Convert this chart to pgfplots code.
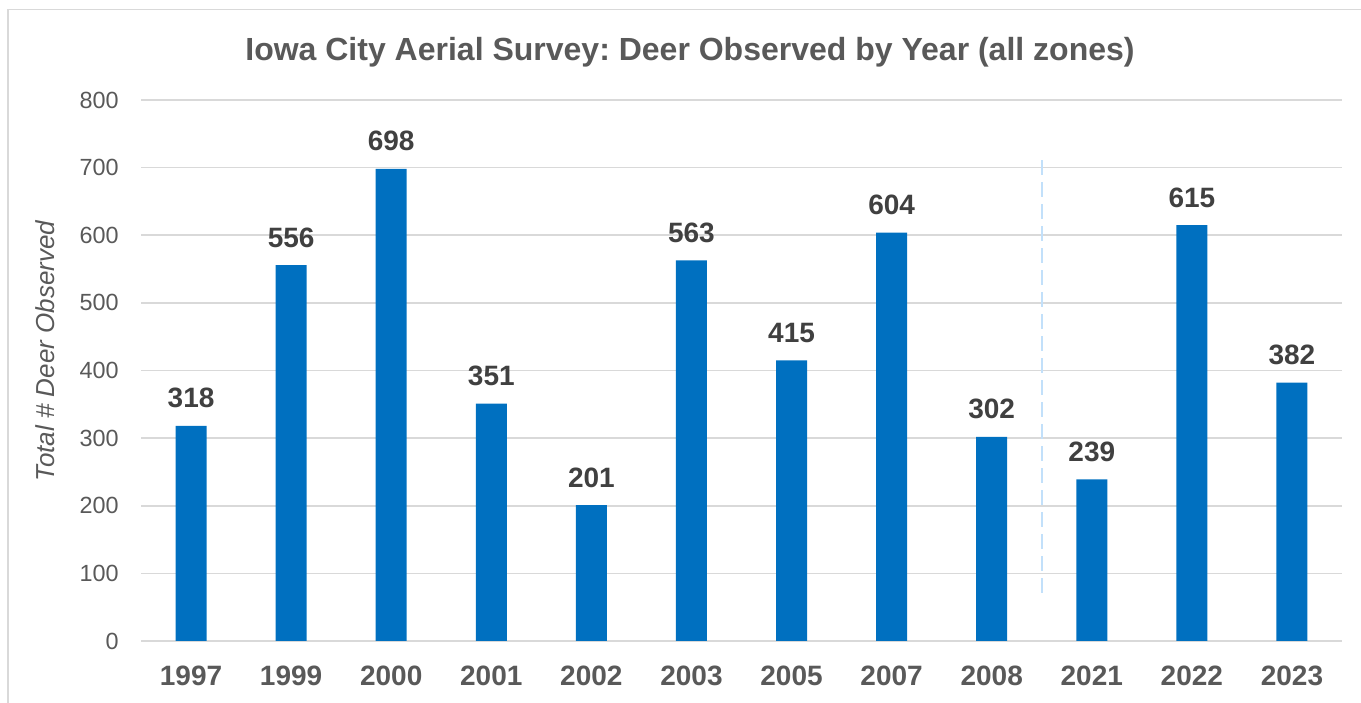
\documentclass[border=0pt]{standalone}
\usepackage{pgfplots}
\pgfplotsset{compat=1.18}
\usepackage{fontspec}
\setmainfont{Liberation Sans}
\frenchspacing
\definecolor{barblue}{HTML}{0070C0}
\definecolor{gridgray}{HTML}{D9D9D9}
\definecolor{textgray}{HTML}{595959}
\definecolor{labelgray}{HTML}{404040}
\definecolor{dashblue}{RGB}{194,224,250}

\begin{document}
\begin{tikzpicture}
% 1 px of the reference = 0.5pt
\useasboundingbox (0,0) rectangle (680.5pt,351pt);
\draw[gridgray, line width=0.75pt] (4pt,-10pt) rectangle (700pt,346.25pt);
\begin{axis}[
    at={(70.5pt,30.5pt)}, anchor=south west,
    scale only axis,
    width=600.5pt, height=270.5pt,
    ybar, bar width=15.5pt,
    xmin=-0.5, xmax=11.5,
    ymin=0, ymax=800,
    xtick=data,
    xticklabels={1997,1999,2000,2001,2002,2003,2005,2007,2008,2021,2022,2023},
    ytick={0,100,...,800},
    ymajorgrids,
    grid style={gridgray, line width=0.85pt},
    axis line style={draw=none},
    major tick length=0pt,
    /pgf/number format/assume math mode=true,
    yticklabel style={font=\fontsize{11.7pt}{14pt}\selectfont, text=textgray, anchor=east, xshift=-11pt, inner sep=0pt},
    xticklabel style={font=\fontsize{14pt}{16pt}\selectfont\bfseries, text=textgray, anchor=base, yshift=-22.5pt, inner sep=0pt},
    nodes near coords,
    every node near coord/.append style={font=\fontsize{14pt}{16pt}\selectfont\bfseries, text=labelgray, anchor=base, yshift=9pt, inner sep=0pt},
]
\addplot[fill=barblue, draw=none] coordinates {
    (0,318) (1,556) (2,698) (3,351) (4,201) (5,563)
    (6,415) (7,604) (8,302) (9,239) (10,615) (11,382)
};
\draw[dashblue, line width=1pt, dash pattern=on 7.5pt off 3.5pt] (axis cs:8.5,71) -- (axis cs:8.5,711);
\end{axis}
\node[anchor=base, text=textgray, font=\fontsize{16pt}{19pt}\selectfont\bfseries] at (345pt,320.5pt) {Iowa City Aerial Survey: Deer Observed by Year (all zones)};
\node[rotate=90, text=textgray, font=\fontsize{13pt}{15pt}\selectfont\itshape] at (22.5pt,175.5pt) {Total \# Deer Observed};
\end{tikzpicture}
\end{document}
